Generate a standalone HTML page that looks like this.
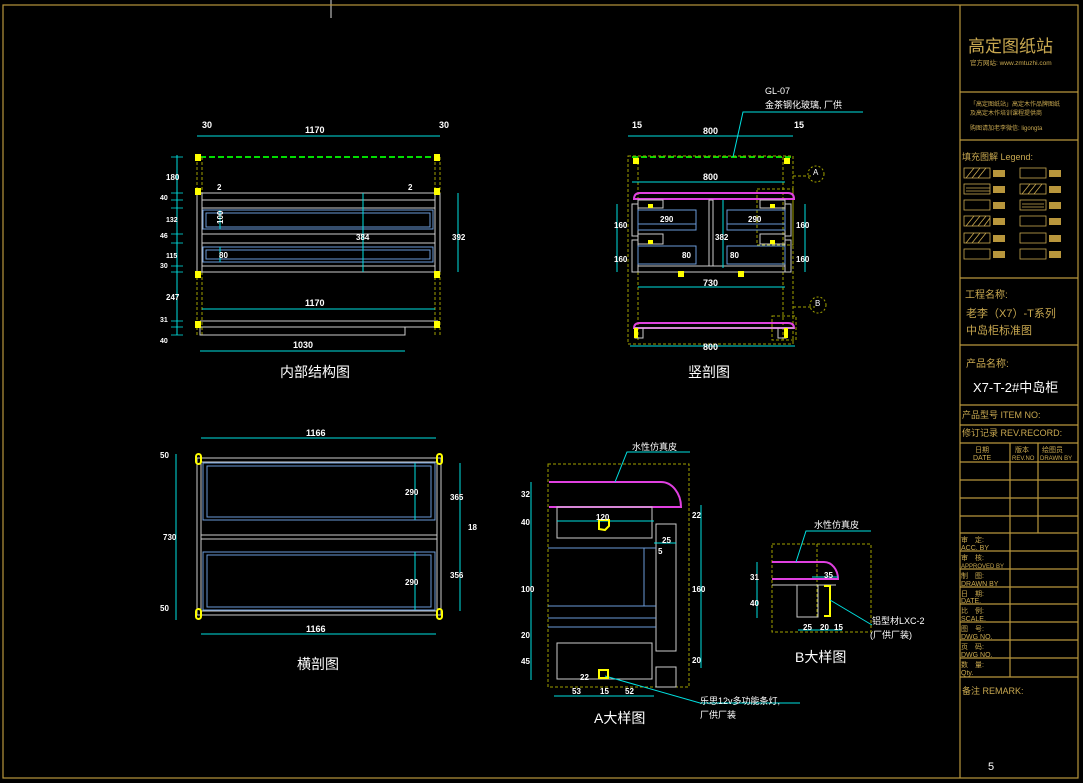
<!DOCTYPE html>
<html><head><meta charset="utf-8"><style>
html,body{margin:0;padding:0;background:#000;}
svg{display:block;}
text{font-family:"Liberation Sans","Noto Sans CJK SC",sans-serif;}
</style></head><body>
<svg width="1083" height="783" viewBox="0 0 1083 783" xmlns="http://www.w3.org/2000/svg">
<rect width="1083" height="783" fill="#000"/>
<line x1="331" y1="0" x2="331" y2="18" stroke="#ddd"/>
<!-- frame -->
<g stroke="#b8963c" fill="none" stroke-width="1.2">
<rect x="3" y="5" width="1075" height="773"/>
<line x1="960" y1="5" x2="960" y2="778"/>
<line x1="960" y1="92" x2="1078" y2="92"/>
<line x1="960" y1="140" x2="1078" y2="140"/>
<line x1="960" y1="278" x2="1078" y2="278"/>
<line x1="960" y1="345" x2="1078" y2="345"/>
<line x1="960" y1="405" x2="1078" y2="405"/>
<line x1="960" y1="425" x2="1078" y2="425"/>
<line x1="960" y1="443" x2="1078" y2="443"/>
<line x1="960" y1="462" x2="1078" y2="462"/>
<line x1="960" y1="480" x2="1078" y2="480"/>
<line x1="960" y1="498" x2="1078" y2="498"/>
<line x1="960" y1="516" x2="1078" y2="516"/>
<line x1="960" y1="533" x2="1078" y2="533"/>
<line x1="960" y1="551" x2="1078" y2="551"/>
<line x1="960" y1="569" x2="1078" y2="569"/>
<line x1="960" y1="587" x2="1078" y2="587"/>
<line x1="960" y1="604" x2="1078" y2="604"/>
<line x1="960" y1="622" x2="1078" y2="622"/>
<line x1="960" y1="640" x2="1078" y2="640"/>
<line x1="960" y1="658" x2="1078" y2="658"/>
<line x1="960" y1="677" x2="1078" y2="677"/>
<line x1="1010" y1="443" x2="1010" y2="533"/>
<line x1="1038" y1="443" x2="1038" y2="533"/>
<line x1="1010" y1="533" x2="1010" y2="677"/>
</g>
<g fill="#c8a850">
<text x="968" y="52" font-size="17">高定图纸站</text>
<text x="970" y="65" font-size="6.5">官方网站: www.zmtuzhi.com</text>
<text x="970" y="106" font-size="6">「高定图纸站」高定木作品牌图纸</text>
<text x="970" y="115" font-size="6">及高定木作培训课程提供商</text>
<text x="970" y="130" font-size="6">购图请加老李微信: ligongta</text>
<text x="962" y="160" font-size="9">填充图解 Legend:</text>
<text x="965" y="298" font-size="10">工程名称:</text>
<text x="966" y="317" font-size="11">老李（X7）-T系列</text>
<text x="966" y="334" font-size="11">中岛柜标准图</text>
<text x="966" y="367" font-size="10">产品名称:</text>
<text x="962" y="418" font-size="9">产品型号 ITEM NO:</text>
<text x="962" y="436" font-size="9">修订记录 REV.RECORD:</text>
<text x="975" y="452" font-size="7">日期</text><text x="973" y="460" font-size="7">DATE</text>
<text x="1015" y="452" font-size="7">版本</text><text x="1012" y="460" font-size="6">REV.NO</text>
<text x="1042" y="452" font-size="7">绘图员</text><text x="1040" y="460" font-size="6">DRAWN BY</text>
<text x="961" y="542" font-size="7">审　定:</text><text x="961" y="550" font-size="7">ACC. BY</text>
<text x="961" y="560" font-size="7">审　核:</text><text x="961" y="568" font-size="6">APPROVED BY</text>
<text x="961" y="578" font-size="7">制　图:</text><text x="961" y="586" font-size="7">DRAWN BY</text>
<text x="961" y="596" font-size="7">日　期:</text><text x="961" y="603" font-size="7">DATE.</text>
<text x="961" y="613" font-size="7">比　例:</text><text x="961" y="621" font-size="7">SCALE.</text>
<text x="961" y="631" font-size="7">图　号:</text><text x="961" y="639" font-size="7">DWG NO.</text>
<text x="961" y="649" font-size="7">页　码:</text><text x="961" y="657" font-size="7">DWG NO.</text>
<text x="961" y="667" font-size="7">数　量:</text><text x="961" y="675" font-size="7">Qty.</text>
<text x="962" y="694" font-size="9">备注 REMARK:</text>
</g>
<text x="973" y="392" font-size="13" fill="#fff">X7-T-2#中岛柜</text>
<text x="988" y="770" font-size="11" fill="#fff">5</text>
<!-- legend swatches -->
<g stroke="#c8a850" fill="none" stroke-width="0.8">
<rect x="964" y="168" width="26" height="10"/><rect x="1020" y="168" width="26" height="10"/>
<rect x="964" y="184" width="26" height="10"/><rect x="1020" y="184" width="26" height="10"/>
<rect x="964" y="200" width="26" height="10"/><rect x="1020" y="200" width="26" height="10"/>
<rect x="964" y="216" width="26" height="10"/><rect x="1020" y="216" width="26" height="10"/>
<rect x="964" y="233" width="26" height="10"/><rect x="1020" y="233" width="26" height="10"/>
<rect x="964" y="249" width="26" height="10"/><rect x="1020" y="249" width="26" height="10"/>
<path d="M966 178l8-10M972 178l8-10M978 178l8-10M966 226l8-10M972 226l8-10M978 226l8-10M984 226l6-8M966 243l8-10M972 243l8-10M978 243l8-10M1022 194l8-10M1028 194l8-10M1034 194l8-10M966 188h24M966 191h24M1022 204h22M1022 207h22"/>
</g>
<g fill="#b8963c">
<rect x="993" y="170" width="12" height="7"/><rect x="1049" y="170" width="12" height="7"/>
<rect x="993" y="186" width="12" height="7"/><rect x="1049" y="186" width="12" height="7"/>
<rect x="993" y="202" width="12" height="7"/><rect x="1049" y="202" width="12" height="7"/>
<rect x="993" y="218" width="12" height="7"/><rect x="1049" y="218" width="12" height="7"/>
<rect x="993" y="235" width="12" height="7"/><rect x="1049" y="235" width="12" height="7"/>
<rect x="993" y="251" width="12" height="7"/><rect x="1049" y="251" width="12" height="7"/>
</g>

<!-- ===== Drawing 1: 内部结构图 ===== -->
<g fill="none">
<line x1="200" y1="157" x2="438" y2="157" stroke="#00dd00" stroke-width="2" stroke-dasharray="6,3"/>
<g stroke="#a0a000" stroke-dasharray="3,2"><line x1="197" y1="157" x2="197" y2="335"/><line x1="202" y1="157" x2="202" y2="335"/><line x1="435" y1="157" x2="435" y2="335"/><line x1="440" y1="157" x2="440" y2="335"/></g>
<g stroke="#ccc"><line x1="197" y1="193" x2="440" y2="193"/><line x1="202" y1="200" x2="435" y2="200"/><line x1="202" y1="208" x2="435" y2="208"/><line x1="202" y1="234" x2="435" y2="234"/><line x1="202" y1="243" x2="435" y2="243"/><line x1="202" y1="266" x2="435" y2="266"/><line x1="197" y1="272" x2="440" y2="272"/>
<line x1="197" y1="193" x2="197" y2="272"/><line x1="202" y1="193" x2="202" y2="272"/><line x1="435" y1="193" x2="435" y2="272"/><line x1="440" y1="193" x2="440" y2="272"/>
<line x1="200" y1="321" x2="438" y2="321"/><line x1="200" y1="327" x2="438" y2="327"/><path d="M200 327v8h205v-8"/></g>
<g stroke="#6a9ad8"><rect x="203" y="210" width="230" height="19"/><rect x="206" y="213" width="224" height="14"/><rect x="203" y="247" width="230" height="15"/><rect x="206" y="250" width="224" height="9"/></g>
<g stroke="#00e0e0"><line x1="197" y1="136" x2="440" y2="136"/><line x1="177" y1="155" x2="177" y2="335"/><line x1="458" y1="193" x2="458" y2="272"/><line x1="202" y1="309" x2="435" y2="309"/><line x1="200" y1="351" x2="405" y2="351"/><line x1="363" y1="193" x2="363" y2="272"/><line x1="220" y1="210" x2="220" y2="229"/><line x1="220" y1="247" x2="220" y2="262"/>
<g stroke-width="0.8"><line x1="171" y1="157" x2="183" y2="157"/><line x1="171" y1="193" x2="183" y2="193"/><line x1="171" y1="200" x2="183" y2="200"/><line x1="171" y1="208" x2="183" y2="208"/><line x1="171" y1="234" x2="183" y2="234"/><line x1="171" y1="243" x2="183" y2="243"/><line x1="171" y1="266" x2="183" y2="266"/><line x1="171" y1="272" x2="183" y2="272"/><line x1="171" y1="321" x2="183" y2="321"/><line x1="171" y1="327" x2="183" y2="327"/><line x1="171" y1="335" x2="183" y2="335"/></g></g>
</g>
<g fill="#ffff00"><rect x="195" y="154" width="6" height="7"/><rect x="434" y="154" width="6" height="7"/><rect x="195" y="188" width="6" height="7"/><rect x="434" y="188" width="6" height="7"/><rect x="195" y="271" width="6" height="7"/><rect x="434" y="271" width="6" height="7"/><rect x="195" y="321" width="6" height="7"/><rect x="434" y="321" width="6" height="7"/></g>
<g fill="#fff" font-size="9" font-weight="bold">
<text x="202" y="128">30</text><text x="305" y="133">1170</text><text x="439" y="128">30</text>
<text x="305" y="306">1170</text><text x="293" y="348">1030</text>
<text x="217" y="190" font-size="8">2</text><text x="408" y="190" font-size="8">2</text>
<text x="219" y="228" transform="rotate(-90 219 224)" font-size="8">100</text>
<text x="219" y="258" font-size="8">80</text>
<text x="356" y="240" font-size="8">384</text>
<text x="452" y="240" font-size="8">392</text>
<text x="166" y="180" font-size="8">180</text><text x="160" y="200" font-size="7">40</text><text x="166" y="222" font-size="7">132</text><text x="160" y="238" font-size="7">46</text><text x="166" y="258" font-size="7">115</text><text x="160" y="268" font-size="7">30</text><text x="166" y="300" font-size="8">247</text><text x="160" y="322" font-size="7">31</text><text x="160" y="343" font-size="7">40</text>
</g>
<text x="280" y="377" font-size="14" fill="#fff">内部结构图</text>

<!-- ===== Drawing 2: 竖剖图 ===== -->
<g fill="none">
<line x1="632" y1="157" x2="793" y2="157" stroke="#00dd00" stroke-width="2" stroke-dasharray="6,3"/>
<g stroke="#a0a000" stroke-dasharray="3,2"><rect x="628" y="156" width="165" height="188"/><line x1="638" y1="157" x2="638" y2="340"/><line x1="783" y1="157" x2="783" y2="340"/><rect x="757" y="189" width="36" height="56"/><rect x="772" y="316" width="24" height="24"/><path d="M793 176h20M793 307h22"/></g>
<g stroke="#e040e0" stroke-width="2"><path d="M634 199q0-6 6-6h148q6 0 6 6z"/><path d="M634 328q0-5 6-5h148q6 0 6 5z"/></g>
<g stroke="#ccc"><rect x="638" y="200" width="25" height="8"/><rect x="760" y="200" width="25" height="8"/><rect x="638" y="234" width="25" height="10"/><rect x="760" y="234" width="25" height="10"/><rect x="632" y="204" width="6" height="32"/><rect x="785" y="204" width="6" height="32"/><rect x="632" y="240" width="6" height="32"/><rect x="785" y="240" width="6" height="32"/><rect x="709" y="200" width="4" height="66"/><line x1="638" y1="266" x2="785" y2="266"/><line x1="638" y1="272" x2="785" y2="272"/><line x1="634" y1="328" x2="794" y2="328"/><rect x="635" y="328" width="8" height="10"/><rect x="778" y="328" width="8" height="10"/></g>
<g stroke="#6a9ad8"><rect x="638" y="210" width="58" height="20"/><rect x="727" y="210" width="58" height="20"/><rect x="638" y="246" width="58" height="18"/><rect x="727" y="246" width="58" height="18"/><line x1="638" y1="224" x2="696" y2="224"/><line x1="727" y1="224" x2="785" y2="224"/></g>
<g stroke="#00e0e0"><line x1="628" y1="136" x2="793" y2="136"/><line x1="632" y1="182" x2="785" y2="182"/><line x1="638" y1="287" x2="785" y2="287"/><line x1="630" y1="346" x2="795" y2="346"/><line x1="617" y1="204" x2="617" y2="272"/><line x1="805" y1="204" x2="805" y2="272"/><line x1="723" y1="200" x2="723" y2="268"/><path d="M733 157l10-45h120"/></g>
</g>
<g fill="#ffff00"><rect x="633" y="158" width="6" height="6"/><rect x="784" y="158" width="6" height="6"/><rect x="648" y="204" width="5" height="4"/><rect x="770" y="204" width="5" height="4"/><rect x="648" y="240" width="5" height="4"/><rect x="770" y="240" width="5" height="4"/><rect x="678" y="271" width="6" height="6"/><rect x="738" y="271" width="6" height="6"/><rect x="634" y="328" width="4" height="10"/><rect x="784" y="328" width="4" height="10"/></g>
<g fill="none" stroke="#a0a000" stroke-dasharray="2,2"><circle cx="816" cy="174" r="8"/><circle cx="818" cy="305" r="8"/></g>
<g fill="#fff" font-size="9">
<text x="765" y="94">GL-07</text><text x="765" y="108">金茶钢化玻璃, 厂供</text>
<text x="813" y="175" font-size="8">A</text><text x="815" y="306" font-size="8">B</text>
<g font-weight="bold"><text x="632" y="128">15</text><text x="703" y="134">800</text><text x="794" y="128">15</text><text x="703" y="180">800</text><text x="703" y="286">730</text><text x="703" y="350">800</text>
<text x="660" y="222" font-size="8">290</text><text x="748" y="222" font-size="8">290</text><text x="614" y="228" font-size="8">160</text><text x="614" y="262" font-size="8">160</text><text x="796" y="228" font-size="8">160</text><text x="796" y="262" font-size="8">160</text><text x="715" y="240" font-size="8">382</text><text x="682" y="258" font-size="8">80</text><text x="730" y="258" font-size="8">80</text></g>
</g>
<text x="688" y="377" font-size="14" fill="#fff">竖剖图</text>

<!-- ===== Drawing 3: 横剖图 ===== -->
<g fill="none">
<g stroke="#ccc"><rect x="197" y="458" width="244" height="157"/><line x1="201" y1="462" x2="437" y2="462"/><line x1="201" y1="611" x2="437" y2="611"/><line x1="201" y1="458" x2="201" y2="615"/><line x1="437" y1="458" x2="437" y2="615"/><line x1="201" y1="535" x2="437" y2="535"/><line x1="201" y1="539" x2="437" y2="539"/></g>
<g stroke="#6a9ad8"><rect x="203" y="463" width="232" height="57"/><rect x="207" y="466" width="224" height="51"/><rect x="203" y="552" width="232" height="58"/><rect x="207" y="555" width="224" height="52"/></g>
<g stroke="#00e0e0"><line x1="201" y1="438" x2="436" y2="438"/><line x1="201" y1="634" x2="436" y2="634"/><line x1="176" y1="454" x2="176" y2="620"/><line x1="460" y1="463" x2="460" y2="611"/><line x1="415" y1="463" x2="415" y2="520"/><line x1="415" y1="552" x2="415" y2="610"/></g>
<g stroke="#ffff00" stroke-width="2"><rect x="196" y="454" width="5" height="10" rx="2.5"/><rect x="437" y="454" width="5" height="10" rx="2.5"/><rect x="196" y="609" width="5" height="10" rx="2.5"/><rect x="437" y="609" width="5" height="10" rx="2.5"/></g>
</g>
<g fill="#fff" font-size="9" font-weight="bold"><text x="306" y="436">1166</text><text x="306" y="632">1166</text><text x="163" y="540" font-size="8">730</text><text x="160" y="458" font-size="8">50</text><text x="160" y="611" font-size="8">50</text><text x="405" y="495" font-size="8">290</text><text x="405" y="585" font-size="8">290</text><text x="450" y="500" font-size="8">365</text><text x="450" y="578" font-size="8">356</text><text x="468" y="530" font-size="8">18</text></g>
<text x="297" y="669" font-size="14" fill="#fff">横剖图</text>

<!-- ===== Drawing 4: A大样图 ===== -->
<g fill="none">
<rect x="548" y="464" width="141" height="223" stroke="#a0a000" stroke-dasharray="3,2"/>
<path d="M549 482h112a20 25 0 0 1 20 25h-132" stroke="#e040e0" stroke-width="2"/>
<g stroke="#ccc"><rect x="557" y="507" width="95" height="31"/><rect x="656" y="524" width="20" height="127"/><rect x="557" y="643" width="95" height="36"/><rect x="656" y="667" width="20" height="20"/></g>
<g stroke="#6a9ad8"><line x1="548" y1="548" x2="656" y2="548"/><line x1="548" y1="606" x2="656" y2="606"/><line x1="548" y1="618" x2="656" y2="618"/><line x1="548" y1="627" x2="656" y2="627"/><line x1="644" y1="548" x2="644" y2="606"/></g>
<g stroke="#00e0e0"><line x1="531" y1="482" x2="531" y2="680"/><line x1="701" y1="505" x2="701" y2="668"/><line x1="557" y1="521" x2="654" y2="521"/><line x1="554" y1="696" x2="654" y2="696"/><line x1="654" y1="543" x2="676" y2="543"/><path d="M615 482l12-30h63"/><path d="M605 676l95 27h100"/></g>
<g stroke="#ffff00" stroke-width="2"><path d="M599 529v-9h10v6l-4 4z"/><rect x="599" y="670" width="9" height="8"/></g>
</g>
<g fill="#fff" font-size="9">
<text x="632" y="450">水性仿真皮</text><text x="700" y="704">乐思12v多功能条灯,</text><text x="700" y="718">厂供厂装</text>
<g font-weight="bold" font-size="8"><text x="596" y="520">120</text><text x="662" y="543">25</text><text x="658" y="554">5</text><text x="521" y="497">32</text><text x="521" y="525">40</text><text x="521" y="592">100</text><text x="521" y="638">20</text><text x="521" y="664">45</text><text x="692" y="518">22</text><text x="692" y="592">160</text><text x="692" y="663">20</text><text x="572" y="694">53</text><text x="600" y="694">15</text><text x="625" y="694">52</text><text x="580" y="680">22</text></g>
</g>
<text x="594" y="723" font-size="14" fill="#fff">A大样图</text>

<!-- ===== Drawing 5: B大样图 ===== -->
<g fill="none">
<rect x="772" y="544" width="99" height="88" stroke="#a0a000" stroke-dasharray="3,2"/>
<line x1="817" y1="544" x2="817" y2="617" stroke="#a0a000" stroke-dasharray="3,2"/>
<path d="M772 562h52a14 17 0 0 1 14 17h-66" stroke="#e040e0" stroke-width="2"/>
<g stroke="#ccc"><rect x="797" y="585" width="21" height="32"/><line x1="772" y1="585" x2="836" y2="585"/></g>
<path d="M824 586h6v30h-6" stroke="#ffff00" stroke-width="2"/>
<g stroke="#00e0e0"><line x1="757" y1="562" x2="757" y2="618"/><line x1="798" y1="630" x2="842" y2="630"/><line x1="812" y1="577" x2="838" y2="577"/><path d="M796 562l10-31h65"/><path d="M830 600l42 25"/></g>
</g>
<g fill="#fff" font-size="9">
<text x="814" y="528">水性仿真皮</text><text x="872" y="624">铝型材LXC-2</text><text x="870" y="638">(厂供厂装)</text>
<g font-weight="bold" font-size="8"><text x="750" y="580">31</text><text x="750" y="606">40</text><text x="824" y="578">35</text><text x="803" y="630">25</text><text x="820" y="630">20</text><text x="834" y="630">15</text></g>
</g>
<text x="795" y="662" font-size="14" fill="#fff">B大样图</text>
</svg>
</body></html>
